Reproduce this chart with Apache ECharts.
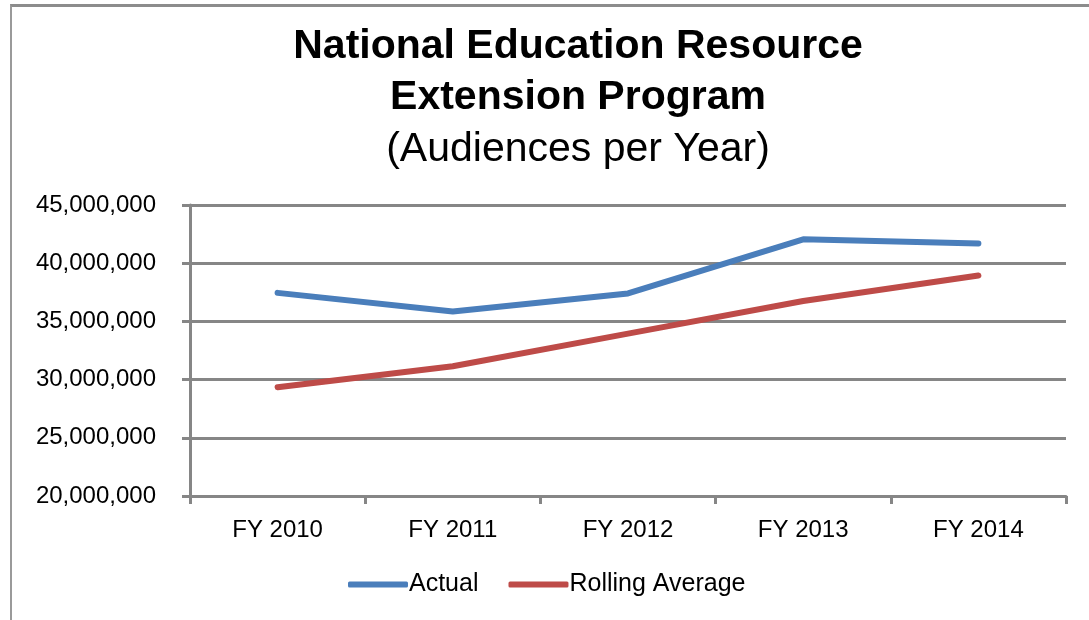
<!DOCTYPE html>
<html><head><meta charset="utf-8">
<script src="https://cdn.jsdelivr.net/npm/echarts@6/dist/echarts.min.js"></script>
<style>
html,body{margin:0;padding:0;background:#fff;}
#frame{position:absolute;left:10px;top:4px;width:1089px;height:620px;border-top:3px solid #8c8c8c;border-left:2px solid #9a9a9a;}
#c{position:absolute;left:0;top:0;width:1089px;height:620px;}
</style></head>
<body>
<div id="frame"></div>
<div id="c"></div>
<script>
const categories = ['FY 2010','FY 2011','FY 2012','FY 2013','FY 2014'];
const actual = [37450000, 35850000, 37400000, 42050000, 41700000];
const rollingAverage = [29350000, 31150000, 33950000, 36750000, 38950000];
const seriesNames = ['Actual','Rolling Average'];

const chart = echarts.init(document.getElementById('c'));
const gray = '#868686';
chart.setOption({
  animation:false,
  title:{
    text:'National Education Resource\nExtension Program',
    subtext:'(Audiences per Year)',
    left:573, top:16, textAlign:'center', itemGap:2,
    textStyle:{fontFamily:'Liberation Sans',fontWeight:'bold',fontSize:41,lineHeight:51,color:'#000'},
    subtextStyle:{fontFamily:'Liberation Sans',fontSize:41,lineHeight:50,color:'#000'}
  },
  legend:{
    data:seriesNames, bottom:18, left:343,
    itemWidth:60, itemHeight:6, itemGap:30, icon:'roundRect',
    textStyle:{fontFamily:'Liberation Sans',fontSize:25,color:'#000',padding:[0,0,0,-4]}
  },
  grid:{left:190,right:23,top:205,bottom:124,containLabel:false},
  xAxis:{
    type:'category', data:categories, boundaryGap:true,
    axisLine:{lineStyle:{color:gray,width:3}},
    axisTick:{show:true,length:8,lineStyle:{color:gray,width:3},alignWithLabel:false},
    axisLabel:{fontFamily:'Liberation Sans',fontSize:24,color:'#000',margin:22}
  },
  yAxis:{
    type:'value', min:20000000, max:45000000, interval:5000000,
    axisLine:{show:true,lineStyle:{color:gray,width:3}},
    axisTick:{show:true,length:8,lineStyle:{color:gray,width:3}},
    splitLine:{lineStyle:{color:gray,width:3}},
    axisLabel:{fontFamily:'Liberation Sans',fontSize:24,color:'#000',margin:34,padding:[5,0,0,0],
      formatter:v=>v.toLocaleString('en-US')}
  },
  series:[
    {name:seriesNames[0],type:'line',data:actual,symbol:'none',
     lineStyle:{color:'#4A7EBB',width:6,cap:'round',join:'round'},itemStyle:{color:'#4A7EBB'}},
    {name:seriesNames[1],type:'line',data:rollingAverage,symbol:'none',
     lineStyle:{color:'#BE4B48',width:6,cap:'round',join:'round'},itemStyle:{color:'#BE4B48'}}
  ]
});
</script>
</body></html>
